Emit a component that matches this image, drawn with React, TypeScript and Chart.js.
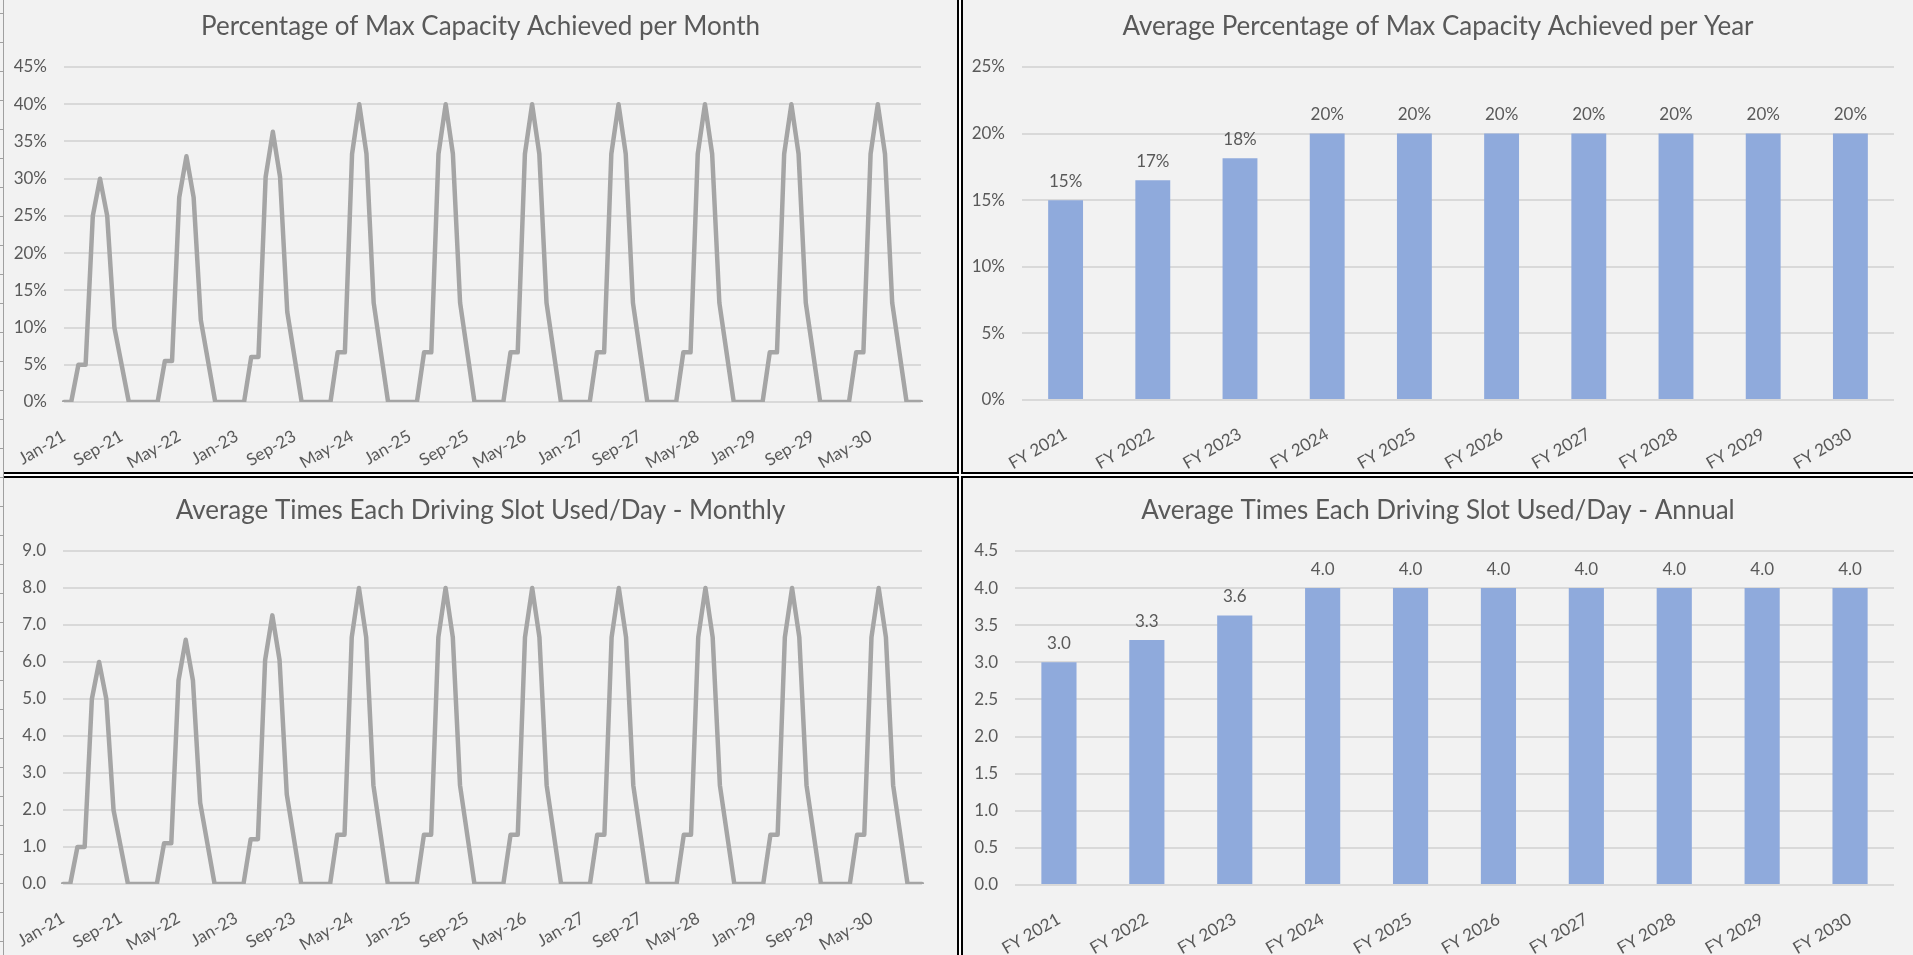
import React, { useEffect, useRef } from "react";
import { Chart, registerables } from "chart.js";

Chart.register(...registerables);

// ---------- data ----------
const monthNames = ["Jan", "Feb", "Mar", "Apr", "May", "Jun", "Jul", "Aug", "Sep", "Oct", "Nov", "Dec"];
const yearSuffixes = ["21", "22", "23", "24", "25", "26", "27", "28", "29", "30"];
const months: string[] = [];
yearSuffixes.forEach((y) => monthNames.forEach((m) => months.push(`${m}-${y}`)));

const monthTickLabels = [
  "Jan-21", "Sep-21", "May-22", "Jan-23", "Sep-23", "May-24", "Jan-25", "Sep-25",
  "May-26", "Jan-27", "Sep-27", "May-28", "Jan-29", "Sep-29", "May-30",
];

// Percentage of max capacity achieved per month (%)
const pct2021 = [0, 0, 5, 5, 25, 30, 25, 10, 5, 0, 0, 0];
const pct2022 = [0, 0, 5.5, 5.5, 27.5, 33, 27.5, 11, 5.5, 0, 0, 0];
const pct2023 = [0, 0, 6.05, 6.05, 30.25, 36.3, 30.25, 12.1, 6.05, 0, 0, 0];
const pct2024 = [0, 0, 6.67, 6.67, 33.33, 40, 33.33, 13.33, 6.67, 0, 0, 0];
const pct2025 = [0, 0, 6.67, 6.67, 33.33, 40, 33.33, 13.33, 6.67, 0, 0, 0];
const pct2026 = [0, 0, 6.67, 6.67, 33.33, 40, 33.33, 13.33, 6.67, 0, 0, 0];
const pct2027 = [0, 0, 6.67, 6.67, 33.33, 40, 33.33, 13.33, 6.67, 0, 0, 0];
const pct2028 = [0, 0, 6.67, 6.67, 33.33, 40, 33.33, 13.33, 6.67, 0, 0, 0];
const pct2029 = [0, 0, 6.67, 6.67, 33.33, 40, 33.33, 13.33, 6.67, 0, 0, 0];
const pct2030 = [0, 0, 6.67, 6.67, 33.33, 40, 33.33, 13.33, 6.67, 0, 0, 0];
const capacityPctMonthly = [
  ...pct2021, ...pct2022, ...pct2023, ...pct2024, ...pct2025,
  ...pct2026, ...pct2027, ...pct2028, ...pct2029, ...pct2030,
];

// Average times each driving slot used per day, monthly
const uses2021 = [0, 0, 1, 1, 5, 6, 5, 2, 1, 0, 0, 0];
const uses2022 = [0, 0, 1.1, 1.1, 5.5, 6.6, 5.5, 2.2, 1.1, 0, 0, 0];
const uses2023 = [0, 0, 1.21, 1.21, 6.05, 7.26, 6.05, 2.42, 1.21, 0, 0, 0];
const uses2024 = [0, 0, 1.33, 1.33, 6.67, 8, 6.67, 2.67, 1.33, 0, 0, 0];
const uses2025 = [0, 0, 1.33, 1.33, 6.67, 8, 6.67, 2.67, 1.33, 0, 0, 0];
const uses2026 = [0, 0, 1.33, 1.33, 6.67, 8, 6.67, 2.67, 1.33, 0, 0, 0];
const uses2027 = [0, 0, 1.33, 1.33, 6.67, 8, 6.67, 2.67, 1.33, 0, 0, 0];
const uses2028 = [0, 0, 1.33, 1.33, 6.67, 8, 6.67, 2.67, 1.33, 0, 0, 0];
const uses2029 = [0, 0, 1.33, 1.33, 6.67, 8, 6.67, 2.67, 1.33, 0, 0, 0];
const uses2030 = [0, 0, 1.33, 1.33, 6.67, 8, 6.67, 2.67, 1.33, 0, 0, 0];
const slotUsesMonthly = [
  ...uses2021, ...uses2022, ...uses2023, ...uses2024, ...uses2025,
  ...uses2026, ...uses2027, ...uses2028, ...uses2029, ...uses2030,
];

const fiscalYears = ["FY 2021", "FY 2022", "FY 2023", "FY 2024", "FY 2025", "FY 2026", "FY 2027", "FY 2028", "FY 2029", "FY 2030"];
const capacityPctAnnual = [15, 16.5, 18.15, 20, 20, 20, 20, 20, 20, 20];
const slotUsesAnnual = [3.0, 3.3, 3.63, 4.0, 4.0, 4.0, 4.0, 4.0, 4.0, 4.0];

// ---------- styling ----------
const FONT = "Lato, 'Open Sans', sans-serif";
const TEXT = "#595959";
const GRID = "#d9d9d9";
const LINE = "#a5a5a5";
const BAR = "#8faadc";
const BG = "#f2f2f2";
const TITLE_SIZE = 26;
const TICK_SIZE = 17;

type Geo = {
  w: number; h: number;
  titleMid: number; areaTop: number; areaLeft: number; areaRight: number; areaBottom: number;
};

function makeOptions(geo: Geo, title: string, yMax: number, yStep: number, yFmt: (v: number) => string, xFilter?: (i: number) => boolean, xLabels?: string[]) {
  const lh = TITLE_SIZE * 1.2;
  return {
    responsive: false,
    animation: false as const,
    layout: { padding: 0 },
    plugins: {
      legend: { display: false },
      tooltip: { enabled: false },
      title: {
        display: true,
        text: title,
        color: TEXT,
        font: { family: FONT, size: TITLE_SIZE, weight: "normal" as const, lineHeight: 1.2 },
        padding: { top: geo.titleMid - lh / 2, bottom: geo.areaTop - (geo.titleMid + lh / 2) },
      },
    },
    scales: {
      x: {
        grid: { display: false },
        border: { display: false },
        ticks: {
          autoSkip: false,
          minRotation: 30,
          maxRotation: 30,
          padding: 16,
          color: TEXT,
          font: { family: FONT, size: TICK_SIZE },
          callback: (_v: any, i: number) => {
            const lbl = xLabels ? xLabels[i] : "";
            if (xFilter && !xFilter(i)) return "";
            return lbl;
          },
        },
        afterFit: (s: any) => {
          s.height = geo.h - geo.areaBottom;
          s.paddingLeft = 0;
          s.paddingRight = 0;
        },
      },
      y: {
        min: 0,
        max: yMax,
        grid: { color: GRID, lineWidth: 2, drawTicks: false },
        border: { display: false },
        ticks: {
          stepSize: yStep,
          padding: 17,
          color: TEXT,
          font: { family: FONT, size: TICK_SIZE },
          callback: (v: any) => yFmt(Number(v)),
        },
        afterFit: (s: any) => {
          s.width = geo.areaLeft;
          s.paddingTop = 0;
          s.paddingBottom = 0;
        },
      },
      // empty spacer on the right so the title stays centred on the whole panel
      spacer: {
        type: "linear" as const,
        position: "right" as const,
        display: true,
        grid: { display: false },
        border: { display: false },
        ticks: { display: false },
        afterFit: (s: any) => {
          s.width = geo.w - geo.areaRight;
          s.paddingTop = 0;
          s.paddingBottom = 0;
        },
      },
    },
  };
}

function barLabelPlugin(format: (v: number) => string, offset: number) {
  return {
    id: "barLabels",
    afterDatasetsDraw(chart: any) {
      const ctx = chart.ctx;
      const meta = chart.getDatasetMeta(0);
      const data = chart.data.datasets[0].data as number[];
      ctx.save();
      ctx.font = `${TICK_SIZE}px ${FONT}`;
      ctx.fillStyle = TEXT;
      ctx.textAlign = "center";
      ctx.textBaseline = "middle";
      meta.data.forEach((el: any, i: number) => {
        ctx.fillText(format(data[i]), el.x, el.y - offset);
      });
      ctx.restore();
    },
  };
}

function lineConfig(geo: Geo, title: string, values: number[], yMax: number, yStep: number, yFmt: (v: number) => string) {
  return {
    type: "line" as const,
    data: {
      labels: months,
      datasets: [{
        data: values,
        yAxisID: "y",
        borderColor: LINE,
        borderWidth: 4.5,
        pointRadius: 0,
        tension: 0,
        borderJoinStyle: "round" as const,
        borderCapStyle: "round" as const,
        fill: false,
      }],
    },
    options: makeOptions(geo, title, yMax, yStep, yFmt, (i) => monthTickLabels.includes(months[i]), months),
  };
}

function barConfig(geo: Geo, title: string, values: number[], yMax: number, yStep: number, yFmt: (v: number) => string, labelFmt: (v: number) => string) {
  return {
    type: "bar" as const,
    data: {
      labels: fiscalYears,
      datasets: [{
        data: values,
        yAxisID: "y",
        backgroundColor: BAR,
        borderWidth: 0,
        categoryPercentage: 1,
        barPercentage: 0.4,
      }],
    },
    options: makeOptions(geo, title, yMax, yStep, yFmt, undefined, fiscalYears),
    plugins: [barLabelPlugin(labelFmt, 19)],
  };
}

function ChartPanel({ left, top, geo, build }: { left: number; top: number; geo: Geo; build: () => any }) {
  const ref = useRef<HTMLCanvasElement>(null);
  useEffect(() => {
    const chart = new Chart(ref.current as HTMLCanvasElement, build());
    return () => chart.destroy();
  }, []);
  return (
    <div style={{ position: "absolute", left, top, width: geo.w, height: geo.h, background: BG }}>
      <canvas ref={ref} width={geo.w} height={geo.h} style={{ display: "block", width: geo.w, height: geo.h }} />
    </div>
  );
}

const pctFmt = (v: number) => `${Math.round(v)}%`;
const oneDec = (v: number) => v.toFixed(1);

const geoTL: Geo = { w: 953, h: 472, titleMid: 27, areaTop: 67, areaLeft: 60, areaRight: 917, areaBottom: 402 };
const geoTR: Geo = { w: 950, h: 472, titleMid: 27, areaTop: 67, areaLeft: 59, areaRight: 931, areaBottom: 400 };
const geoBL: Geo = { w: 953, h: 477, titleMid: 33, areaTop: 73, areaLeft: 59, areaRight: 918, areaBottom: 406 };
const geoBR: Geo = { w: 950, h: 477, titleMid: 33, areaTop: 73, areaLeft: 52, areaRight: 931, areaBottom: 407 };

export default function App() {
  const abs = (l: number, t: number, w: number | string, h: number | string, bg: string, extra: any = {}) => (
    <div style={{ position: "absolute", left: l, top: t, width: w, height: h, background: bg, ...extra }} />
  );
  return (
    <div style={{ position: "fixed", left: 0, top: 0, width: 1913, height: 955, background: BG, overflow: "hidden" }}>
      <ChartPanel left={4} top={0} geo={geoTL} build={() => lineConfig(geoTL, "Percentage of Max Capacity Achieved per Month", capacityPctMonthly, 45, 5, (v) => `${Math.round(v)}%`)} />
      <ChartPanel left={963} top={0} geo={geoTR} build={() => barConfig(geoTR, "Average Percentage of Max Capacity Achieved per Year", capacityPctAnnual, 25, 5, (v) => `${Math.round(v)}%`, pctFmt)} />
      <ChartPanel left={4} top={478} geo={geoBL} build={() => lineConfig(geoBL, "Average Times Each Driving Slot Used/Day - Monthly", slotUsesMonthly, 9, 1, oneDec)} />
      <ChartPanel left={963} top={478} geo={geoBR} build={() => barConfig(geoBR, "Average Times Each Driving Slot Used/Day - Annual", slotUsesAnnual, 4.5, 0.5, oneDec, oneDec)} />
      {/* row-header edge on the left */}
      {abs(3, 0, 1, 955, "#a0a0a0")}
      {abs(0, 0, 3, 955, "", {
        background: "repeating-linear-gradient(to bottom, transparent 0px, transparent 13px, #a0a0a0 13px, #a0a0a0 14px, transparent 14px, transparent 29px)",
      })}
      {/* panel borders */}
      {abs(957, 0, 2, 955, "#000")}
      {abs(961, 0, 2, 955, "#000")}
      {abs(4, 472, 1909, 2, "#000")}
      {abs(4, 476, 1909, 2, "#000")}
      {abs(959, 0, 2, 955, "#fff")}
      {abs(4, 474, 1909, 2, "#fff")}
    </div>
  );
}
